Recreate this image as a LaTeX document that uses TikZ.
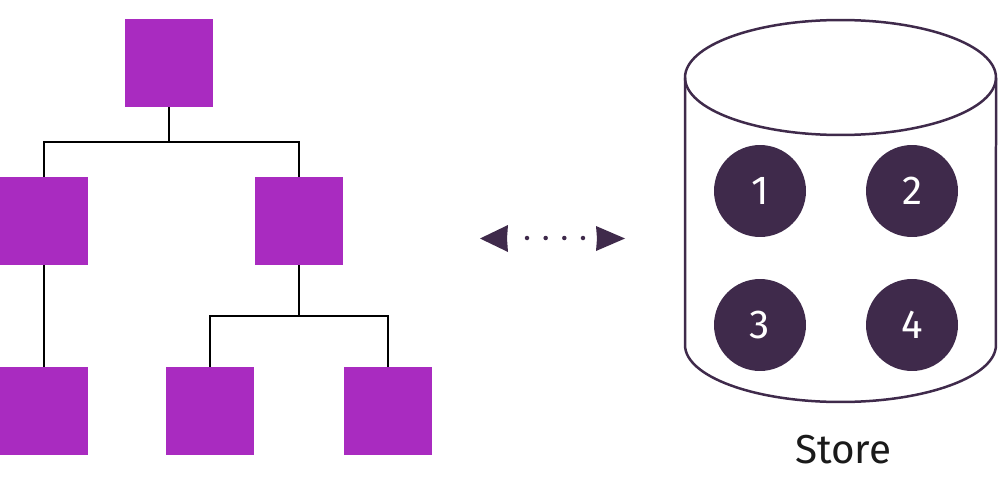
\documentclass[tikz,border=0pt]{standalone}
\usepackage{fontspec}
\setmainfont{Fira Sans}
\definecolor{sqpurple}{HTML}{A92BC0}
\definecolor{darkplum}{HTML}{3F2A4B}
\definecolor{inkdark}{HTML}{1A1A1A}
\begin{document}
\begin{tikzpicture}[x={(0.02cm,0)},y={(0,-0.02cm)},
  sq/.style={rectangle,fill=sqpurple,inner sep=0pt,minimum size=1.76cm},
  link/.style={draw=black,line width=0.04cm},
  slot/.style={circle,fill=darkplum,inner sep=0pt,minimum size=1.84cm,text=white,font=\fontsize{23}{26}\selectfont},
  rim/.style={draw=darkplum,line width=0.05cm},
  dots/.style={draw=darkplum,line width=0.09cm,line cap=round,dash pattern=on 0pt off 0.3733cm},
  head/.style={fill=darkplum}]
\useasboundingbox (0,0) rectangle (1000,490);
% tree
\node[sq] (top) at (169,63) {};
\node[sq] (ml) at (44,221) {};
\node[sq] (mr) at (299,221) {};
\node[sq] (bl) at (44,411) {};
\node[sq] (bm) at (210,411) {};
\node[sq] (br) at (388,411) {};
\coordinate (j1) at (169,142);
\coordinate (j2) at (299,316);
\draw[link] (top.south) -- (j1);
\draw[link] (ml.north) |- (j1) -| (mr.north);
\draw[link] (ml.south) -- (bl.north);
\draw[link] (mr.south) -- (j2);
\draw[link] (bm.north) |- (j2) -| (br.north);
% arrow
\coordinate (hL) at (527,238);
\coordinate (hR) at (583.3,238);
\draw[dots] (hL) -- (hR);
\fill[head] (480,238.5) -- (508,225) -- (507,238.5) -- (508,252) -- cycle;
\fill[head] (625,238.5) -- (596,226) -- (597,238.5) -- (596,251) -- cycle;
% cylinder
\coordinate (ctop) at (840.5,77.5);
\draw[rim] (ctop) ellipse [x radius=3.11cm, y radius=1.15cm];
\draw[rim] (685,77.5) -- (685,345) arc[start angle=180, end angle=360, x radius=3.11cm, y radius=1.14cm] -- (996,77.5);
\node[slot] (s1) at (760,191) {1};
\node[slot] (s2) at (912,191) {2};
\node[slot] (s3) at (760,325) {3};
\node[slot] (s4) at (912,325) {4};
\node[text=inkdark,font=\fontsize{23}{26}\selectfont] (store) at (843,450) {Store};
\end{tikzpicture}
\end{document}
